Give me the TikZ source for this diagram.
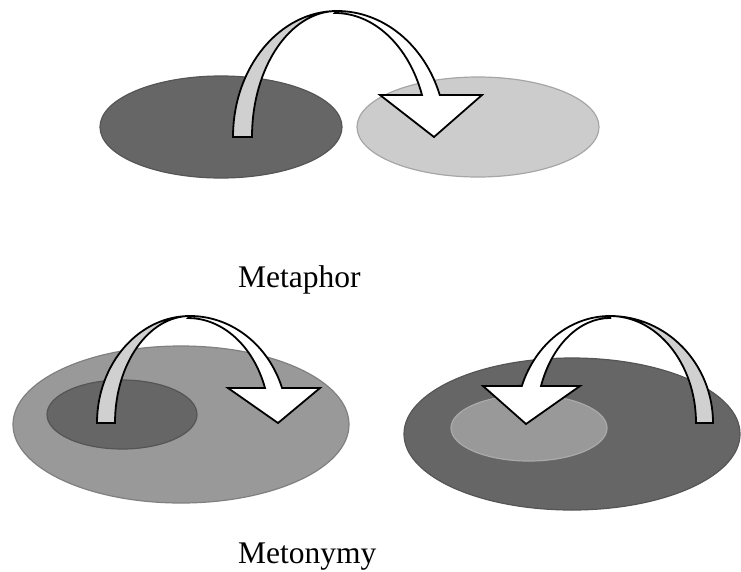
\documentclass[tikz,border=0pt]{standalone}
\usepackage{fontspec}
\setmainfont{Liberation Serif}
\begin{document}
\begin{tikzpicture}[x=1pt,y=1pt,
  dark/.style={fill=dk,draw=dkb,line width=1.2pt},
  light/.style={fill=lt,draw=ltb,line width=1.2pt},
  mid/.style={fill=md,draw=mdb,line width=1.2pt},
  midlight/.style={fill=md,draw=mlb,line width=1.2pt},
  backband/.style={fill=bk,draw=black,line width=1.8pt,line join=miter},
  frontband/.style={fill=white,draw=black,line width=1.8pt,line join=miter},
  lbl/.style={anchor=base west,inner sep=0pt,font=\fontsize{31.5}{37}\selectfont}]
\definecolor{dk}{HTML}{666666}
\definecolor{dkb}{HTML}{555555}
\definecolor{lt}{HTML}{CCCCCC}
\definecolor{ltb}{HTML}{A6A6A6}
\definecolor{md}{HTML}{999999}
\definecolor{mdb}{HTML}{808080}
\definecolor{mlb}{HTML}{AAAAAA}
\definecolor{bk}{HTML}{D0D0D0}
\useasboundingbox (0,0) rectangle (741,-571);

% ---- Metaphor ----
\path[dark] (221,-127) ellipse[x radius=121,y radius=51];
\path[light] (478,-127) ellipse[x radius=121,y radius=50];
\path[backband] (233,-137) arc[start angle=180,end angle=90,x radius=104,y radius=126]
  arc[start angle=90,end angle=180,x radius=85,y radius=126] -- cycle;
\path[frontband] (337,-11) arc[start angle=90,end angle=19.5,x radius=109,y radius=126]
  -- (482,-95) -- (434,-137) -- (380,-95) -- (422,-95)
  arc[start angle=19.8,end angle=90,x radius=92.5,y radius=124] -- cycle;
\node[lbl] (metaphor) at (238,-287) {Metaphor};

% ---- Metonymy left ----
\path[mid] (181,-424.5) ellipse[x radius=168,y radius=78.5];
\path[dark] (122,-414.5) ellipse[x radius=75,y radius=34.5];
\path[backband] (97,-423) arc[start angle=180,end angle=90,x radius=93,y radius=107]
  arc[start angle=90,end angle=180,x radius=75,y radius=107] -- cycle;
\path[frontband] (190,-316) arc[start angle=90,end angle=19.1,x radius=97.4,y radius=107]
  -- (320,-388) -- (278,-423) -- (228,-388) -- (265,-388)
  arc[start angle=19.5,end angle=90,x radius=81.7,y radius=105] -- cycle;

% ---- Metonymy right ----
\path[dark] (572,-434) ellipse[x radius=168,y radius=76];
\path[midlight] (529,-428) ellipse[x radius=78,y radius=33];
\path[backband] (713,-423) arc[start angle=0,end angle=90,x radius=103,y radius=107]
  arc[start angle=90,end angle=0,x radius=86,y radius=107] -- cycle;
\path[frontband] (610,-316) arc[start angle=90,end angle=159.7,x radius=94,y radius=107]
  -- (483,-386) -- (526,-424) -- (580,-386) -- (541,-386)
  arc[start angle=159.4,end angle=90,x radius=74,y radius=105] -- cycle;
\node[lbl] (metonymy) at (238,-563) {Metonymy};
\end{tikzpicture}
\end{document}
